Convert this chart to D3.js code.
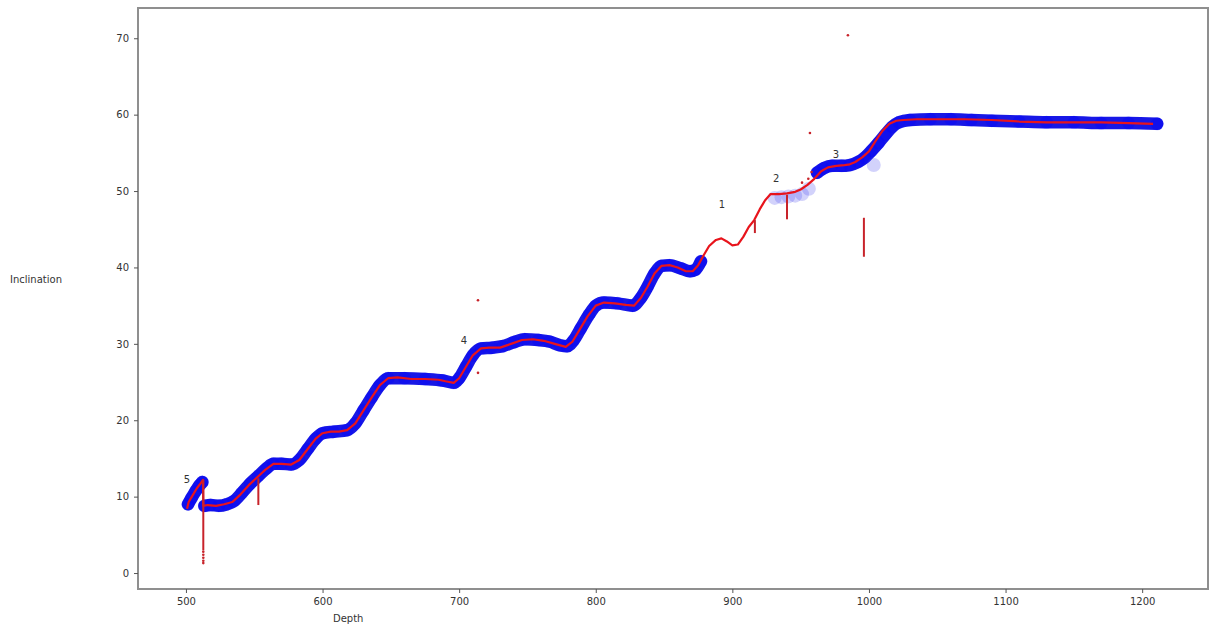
<!DOCTYPE html>
<html>
<head>
<meta charset="utf-8">
<script src="https://d3js.org/d3.v7.min.js"></script>
<style>
body { margin: 0; background: #fff; font-family: "DejaVu Sans", sans-serif; }
.tick text { fill: #333; font-size: 10px; }
.tick line { stroke: #555; }
</style>
</head>
<body>
<svg width="1210" height="626"></svg>
<script>
// depth, inclination pairs
var blueStart = [[501.5, 9.0], [504, 9.8], [507, 10.7], [510, 11.5], [512, 11.9]];
var blueMain = [[513.5, 8.8], [518, 8.9], [524, 8.8], [530, 9.0], [535, 9.4], [541, 10.5], [547, 11.7],
  [553, 12.7], [559, 13.7], [564, 14.3], [570, 14.3], [577, 14.2], [583, 14.8], [589, 16.2], [595, 17.6],
  [600, 18.3], [608, 18.5], [618, 18.7], [624, 19.6], [630, 21.3], [636, 23.0], [642, 24.6], [648, 25.5],
  [660, 25.5], [675, 25.4], [688, 25.2], [696, 24.9], [700, 25.5], [705, 27.0], [710, 28.5], [716, 29.4],
  [724, 29.5], [732, 29.7], [740, 30.2], [748, 30.6], [758, 30.5], [766, 30.3], [774, 29.8], [779, 29.7],
  [784, 30.5], [789, 32.0], [795, 33.8], [800, 35.0], [806, 35.4], [816, 35.3], [827, 35.0], [833, 36.0],
  [838, 37.5], [843, 39.2], [848, 40.2], [854, 40.3], [862, 39.9], [869, 39.5], [873, 39.7], [877, 40.8]];
var blueTail = [[962, 52.4], [967, 53.0], [973, 53.3], [980, 53.3], [986, 53.4], [992, 53.8], [997, 54.4],
  [1002, 55.3], [1007, 56.3], [1012, 57.4], [1017, 58.4], [1022, 59.0], [1030, 59.3], [1045, 59.4],
  [1060, 59.4], [1075, 59.3], [1090, 59.2], [1110, 59.1], [1130, 59.0], [1150, 59.0], [1170, 58.9],
  [1190, 58.9], [1211, 58.8]];
var blueFaint = [[931, 49.1], [936, 49.2], [941, 49.3], [946, 49.4], [951, 49.6], [956, 50.3], [1003.5, 53.4]];

var redLine = [[500.8, 8.4], [502, 9.3], [505, 10.2], [508, 11.1], [511, 11.8], [512.5, 12.2], [512.7, 8.8],
  [516, 8.9], [522, 8.8], [528, 9.0], [534, 9.3], [540, 10.3], [546, 11.5], [552, 12.5], [558, 13.5],
  [564, 14.3], [570, 14.3], [577, 14.2], [583, 14.8], [589, 16.2], [595, 17.6], [600, 18.3], [606, 18.5],
  [612, 18.5], [618, 18.7], [624, 19.6], [630, 21.3], [636, 23.0], [642, 24.6], [648, 25.5], [655, 25.6],
  [665, 25.4], [675, 25.4], [685, 25.3], [690, 25.1], [696, 24.9], [700, 25.5], [705, 27.0], [710, 28.5],
  [716, 29.4], [722, 29.5], [730, 29.5], [738, 30.0], [746, 30.5], [754, 30.6], [762, 30.4], [770, 30.0],
  [778, 29.6], [783, 30.3], [788, 31.8], [794, 33.6], [800, 35.0], [806, 35.4], [814, 35.3], [822, 35.1],
  [828, 35.0], [833, 36.0], [838, 37.5], [843, 39.2], [848, 40.2], [854, 40.3], [860, 40.0], [866, 39.5],
  [871, 39.5], [875, 40.3], [879, 41.6], [883, 42.8], [888, 43.6], [892, 43.8], [896, 43.4], [900, 42.9],
  [904, 43.0], [908, 44.0], [912, 45.3], [916, 46.2], [920, 47.6], [924, 48.8], [928, 49.6], [934, 49.6],
  [940, 49.7], [946, 49.9], [950, 50.2], [955, 50.8], [960, 51.6], [965, 52.6], [970, 53.1], [976, 53.3],
  [982, 53.4], [986, 53.5], [990, 53.8], [995, 54.4], [1000, 55.2], [1005, 56.6], [1010, 57.9], [1015, 58.8],
  [1020, 59.2], [1025, 59.3], [1035, 59.4], [1050, 59.4], [1070, 59.4], [1090, 59.3], [1110, 59.1],
  [1130, 59.0], [1150, 59.0], [1170, 59.0], [1190, 58.9], [1208, 58.8]];
// vertical red spikes: depth, top, bottom
var redSpikes = [[512.7, 12.2, 3.0], [553, 12.4, 8.9], [916.5, 46.2, 44.5], [940, 49.5, 46.3], [996.3, 46.5, 41.4]];
var redDots = [[512.7, 2.8], [512.7, 2.4], [512.7, 2.0], [512.7, 1.6], [512.7, 1.3],
  [713.8, 35.7], [713.8, 26.2], [984.6, 70.4], [956.8, 57.6], [951, 51.1], [955.6, 51.6], [958, 52.5]];
var labels = [["1", 892.4, 48.2], ["2", 932, 51.7], ["3", 975.8, 54.8], ["4", 703.5, 30.4], ["5", 500.7, 12.2]];
var xTicks = [500, 600, 700, 800, 900, 1000, 1100, 1200];
var yTicks = [0, 10, 20, 30, 40, 50, 60, 70];

var svg = d3.select("svg");
var x = d3.scaleLinear().domain([464.9, 1248.2]).range([138, 1208]);
var y = d3.scaleLinear().domain([-2.09, 73.96]).range([589, 8]);

var line = d3.line().x(function(d) { return x(d[0]); }).y(function(d) { return y(d[1]); })
  .curve(d3.curveMonotoneX);

// blue scatter band
[blueStart, blueMain, blueTail].forEach(function(seg) {
  svg.append("path").attr("d", line(seg))
    .attr("fill", "none").attr("stroke", "#1818e6").attr("stroke-width", 12.5)
    .attr("stroke-linecap", "round").attr("stroke-linejoin", "round");
  svg.append("g").selectAll("circle").data(seg).enter().append("circle")
    .attr("cx", function(d) { return x(d[0]); })
    .attr("cy", function(d) { return y(d[1]); })
    .attr("r", 6.5).attr("fill", "#0000ff").attr("opacity", 0.3);
});
svg.append("g").selectAll("circle").data(blueFaint).enter().append("circle")
  .attr("cx", function(d) { return x(d[0]); })
  .attr("cy", function(d) { return y(d[1]); })
  .attr("r", 7).attr("fill", "#4a4aee").attr("opacity", 0.25);

// red line
svg.append("path").attr("d", line.curve(d3.curveLinear)(redLine))
  .attr("fill", "none").attr("stroke", "#e8141c").attr("stroke-width", 2.2)
  .attr("stroke-linejoin", "round");

svg.append("g").selectAll("line").data(redSpikes).enter().append("line")
  .attr("x1", function(d) { return x(d[0]); }).attr("x2", function(d) { return x(d[0]); })
  .attr("y1", function(d) { return y(d[1]); }).attr("y2", function(d) { return y(d[2]); })
  .attr("stroke", "#c8232a").attr("stroke-width", 2);

svg.append("g").selectAll("circle").data(redDots).enter().append("circle")
  .attr("cx", function(d) { return x(d[0]); })
  .attr("cy", function(d) { return y(d[1]); })
  .attr("r", 1.3).attr("fill", "#c8232a");

svg.append("g").selectAll("text").data(labels).enter().append("text")
  .attr("x", function(d) { return x(d[1]); })
  .attr("y", function(d) { return y(d[2]); })
  .attr("font-size", 10).attr("fill", "#333").attr("text-anchor", "middle")
  .attr("dy", "0.35em")
  .text(function(d) { return d[0]; });

// frame
svg.append("rect").attr("x", 138).attr("y", 8).attr("width", 1070).attr("height", 581)
  .attr("fill", "none").attr("stroke", "#8f8f8f").attr("stroke-width", 2);

var xAxis = svg.append("g").attr("transform", "translate(0,589)")
  .call(d3.axisBottom(x).tickValues(xTicks).tickFormat(d3.format("d")).tickSize(4).tickPadding(5));
var yAxis = svg.append("g").attr("transform", "translate(138,0)")
  .call(d3.axisLeft(y).tickValues(yTicks).tickFormat(d3.format("d")).tickSize(4).tickPadding(5));
xAxis.select(".domain").remove();
yAxis.select(".domain").remove();
xAxis.selectAll("text").attr("font-family", "DejaVu Sans");
yAxis.selectAll("text").attr("font-family", "DejaVu Sans");

svg.append("text").attr("x", 10).attr("y", 283).attr("font-size", 10).attr("fill", "#333")
  .text("Inclination");
svg.append("text").attr("x", 333).attr("y", 622).attr("font-size", 10).attr("fill", "#333")
  .text("Depth");
</script>
</body>
</html>
